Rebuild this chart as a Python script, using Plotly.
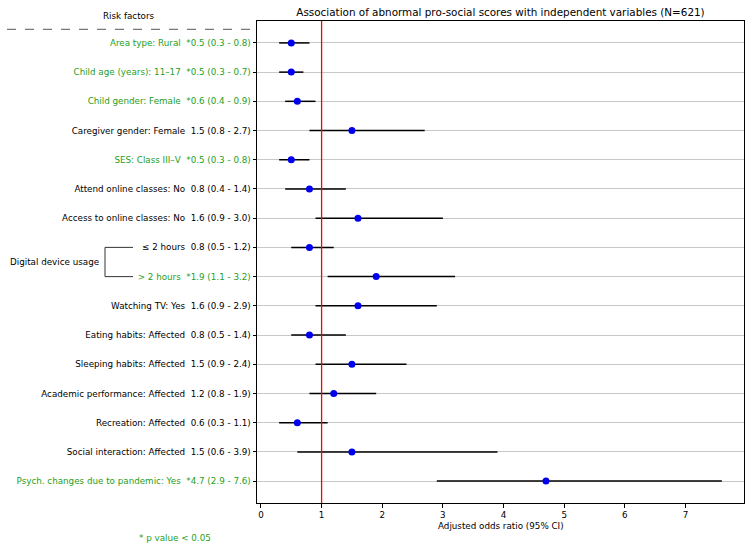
import plotly.graph_objects as go

labels = ["Area type: Rural", "Child age (years): 11\u201317", "Child gender: Female",
          "Caregiver gender: Female", "SES: Class III\u2013V", "Attend online classes: No",
          "Access to online classes: No", "\u2264 2 hours", "> 2 hours", "Watching TV: Yes",
          "Eating habits: Affected", "Sleeping habits: Affected", "Academic performance: Affected",
          "Recreation: Affected", "Social interaction: Affected", "Psych. changes due to pandemic: Yes"]
odds = [0.5, 0.5, 0.6, 1.5, 0.5, 0.8, 1.6, 0.8, 1.9, 1.6, 0.8, 1.5, 1.2, 0.6, 1.5, 4.7]
lower = [0.3, 0.3, 0.4, 0.8, 0.3, 0.4, 0.9, 0.5, 1.1, 0.9, 0.5, 0.9, 0.8, 0.3, 0.6, 2.9]
upper = [0.8, 0.7, 0.9, 2.7, 0.8, 1.4, 3.0, 1.2, 3.2, 2.9, 1.4, 2.4, 1.9, 1.1, 3.9, 7.6]
significant = [True, True, True, False, True, False, False, False, True, False,
               False, False, False, False, False, True]
x_ticks = [0, 1, 2, 3, 4, 5, 6, 7]

GREEN = "#24a024"
FONT = "DejaVu Sans"
FS = 8.75
W, H = 750, 548
ML, MR, MT, MB = 257, 6, 21, 45
PW = W - ML - MR
PH = H - MT - MB

def px_to_paper(px):
    return (px - ML) / PW

def py_to_paper(py):
    return 1 - (py - MT) / PH

rows = list(range(len(labels)))

ticktext = []
for lab, o, lo, up, s in zip(labels, odds, lower, upper, significant):
    val = f"{'*' if s else ''}{o:.1f} ({lo:.1f} - {up:.1f})"
    txt = f"{lab}\u00a0\u00a0{val}"
    if s:
        txt = f"<span style='color:{GREEN}'>{txt}</span>"
    ticktext.append(txt)

fig = go.Figure()

# CI lines
xs, ys = [], []
for r, lo, up in zip(rows, lower, upper):
    xs += [lo, up, None]
    ys += [r, r, None]
fig.add_trace(go.Scatter(x=xs, y=ys, mode="lines", line=dict(color="black", width=1.5),
                         hoverinfo="skip", showlegend=False))
fig.add_trace(go.Scatter(x=odds, y=rows, mode="markers",
                         marker=dict(color="#0000ee", size=7), showlegend=False))

# reference line at OR = 1
fig.add_shape(type="line", xref="x", yref="paper", x0=1, x1=1, y0=0, y1=1,
              line=dict(color="red", width=1.3), layer="above")

# dashed header line
fig.add_shape(type="line", xref="paper", yref="paper",
              x0=px_to_paper(7), x1=px_to_paper(255),
              y0=py_to_paper(29.3), y1=py_to_paper(29.3),
              line=dict(color="#777777", width=1.2, dash="dash"))

# bracket for digital device usage
bx0, bx1 = px_to_paper(105), px_to_paper(133)
for r in (7, 8):
    fig.add_shape(type="line", xref="paper", yref="y", x0=bx0, x1=bx1, y0=r, y1=r,
                  line=dict(color="#333333", width=1))
fig.add_shape(type="line", xref="paper", yref="y", x0=bx0, x1=bx0, y0=7, y1=8,
              line=dict(color="#333333", width=1))

annotations = [
    dict(text="Digital device usage", xref="paper", yref="y", x=px_to_paper(101), y=7.5,
         xanchor="right", yanchor="middle", showarrow=False, font=dict(size=FS, color="black")),
    dict(text="Risk factors", xref="paper", yref="paper", x=px_to_paper(129),
         y=py_to_paper(15.7), xanchor="center", yanchor="middle",
         showarrow=False, font=dict(size=FS, color="black")),
    dict(text="* p value < 0.05", xref="paper", yref="paper", x=px_to_paper(175),
         y=py_to_paper(538), xanchor="center", yanchor="middle",
         showarrow=False, font=dict(size=FS, color=GREEN)),
    dict(text="Adjusted odds ratio (95% CI)", xref="paper", yref="paper", x=0.5,
         y=py_to_paper(526), xanchor="center", yanchor="middle",
         showarrow=False, font=dict(size=FS, color="black")),
]

fig.update_layout(
    width=W, height=H,
    margin=dict(l=ML, r=MR, t=MT, b=MB),
    paper_bgcolor="white", plot_bgcolor="white",
    font=dict(family=FONT, size=FS, color="black"),
    title=dict(text="Association of abnormal pro-social scores with independent variables (N=621)",
               x=(ML + PW / 2) / W, xanchor="center", y=1 - 12 / H, yanchor="middle",
               font=dict(size=10.4, color="black")),
    annotations=annotations,
    showlegend=False,
)
fig.update_xaxes(range=[-0.065, 7.965], tickvals=x_ticks, ticks="outside", ticklen=3.5,
                 tickcolor="black", showgrid=False, zeroline=False,
                 showline=True, linecolor="black", linewidth=1, mirror=True,
                 ticklabelstandoff=0)
fig.update_yaxes(range=[15.75, -0.75], tickvals=rows, ticktext=ticktext, ticks="outside",
                 ticklen=3.5, tickcolor="black", showgrid=True, gridcolor="#c8c8c8",
                 gridwidth=1, zeroline=False, showline=True, linecolor="black", linewidth=1,
                 mirror=True)

fig.write_html("out.html")
